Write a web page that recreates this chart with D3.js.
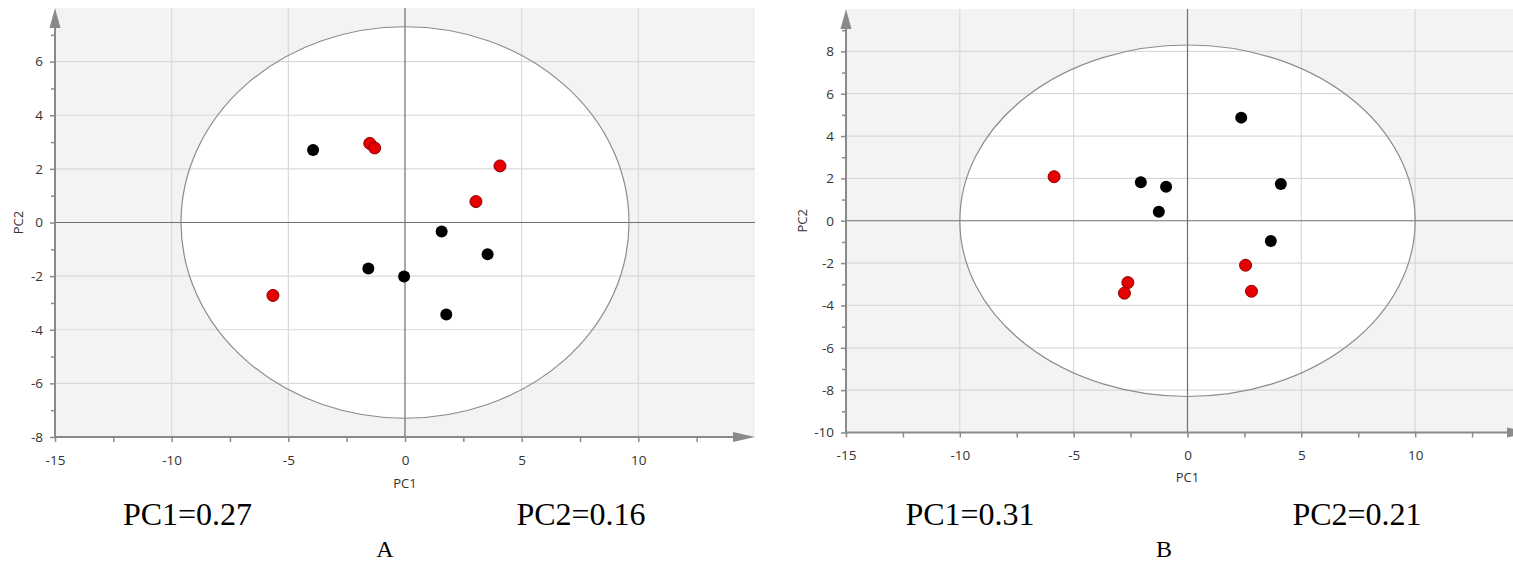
<!DOCTYPE html>
<html>
<head>
<meta charset="utf-8">
<script src="https://cdn.jsdelivr.net/npm/d3@7"></script>
<style>
  html, body { margin: 0; padding: 0; background: #fff; }
  svg { display: block; }
  .tick text { font-family: "Open Sans", "Noto Sans", sans-serif; fill: #333; }
</style>
</head>
<body>
<svg id="chart" width="1513" height="563"></svg>
<script>
// Score plots (PC1 vs PC2) for two sample sets; black = group 1, red = group 2.

// Panel A scores
const aBlackPC1 = [-3.94, -1.57, -0.04, 1.57, 3.54, 1.77];
const aBlackPC2 = [2.70, -1.72, -2.01, -0.34, -1.18, -3.43];
const aRedPC1 = [-1.51, -1.30, 4.07, 3.04, -5.66];
const aRedPC2 = [2.95, 2.78, 2.11, 0.78, -2.72];
const aEllipse = [9.6, 7.3];          // Hotelling T2 ellipse semi-axes (PC1, PC2)
const aXDomain = [-15, 15];
const aYDomain = [-8, 8];
const aYTicks = [-8, -6, -4, -2, 0, 2, 4, 6];
const aYMinor = [-7, -5, -3, -1, 1, 3, 5, 7];
const aCaption = ["PC1=0.27", "PC2=0.16", "A"];

// Panel B scores
const bBlackPC1 = [2.36, 4.10, 3.66, -2.05, -0.94, -1.26];
const bBlackPC2 = [4.87, 1.74, -0.96, 1.82, 1.61, 0.43];
const bRedPC1 = [-5.86, -2.62, -2.77, 2.55, 2.81];
const bRedPC2 = [2.08, -2.92, -3.42, -2.10, -3.33];
const bEllipse = [10.0, 8.3];
const bXDomain = [-15, 15];
const bYDomain = [-10, 10];
const bYTicks = [-10, -8, -6, -4, -2, 0, 2, 4, 6, 8];
const bYMinor = [-9, -7, -5, -3, -1, 1, 3, 5, 7, 9];
const bCaption = ["PC1=0.31", "PC2=0.21", "B"];

// Shared x ticks
const xTicks = [-15, -10, -5, 0, 5, 10];
const xMinor = [-12.5, -7.5, -2.5, 2.5, 7.5, 12.5];

const svg = d3.select("#chart");

function drawPanel(p) {
  const x = d3.scaleLinear().domain(p.xDomain).range(p.xRange);
  const y = d3.scaleLinear().domain(p.yDomain).range(p.yRange);
  const g = svg.append("g");
  const x0 = p.xRange[0], x1 = p.xRange[1], yb = p.yRange[0], yt = p.yRange[1];

  // plot background (outside the ellipse)
  g.append("rect")
    .attr("x", x0).attr("y", yt)
    .attr("width", x1 - x0).attr("height", yb - yt)
    .attr("fill", "#f3f3f3");

  // confidence ellipse interior
  g.append("ellipse")
    .attr("cx", x(0)).attr("cy", y(0))
    .attr("rx", x(p.ellipse[0]) - x(0))
    .attr("ry", y(0) - y(p.ellipse[1]))
    .attr("fill", "#ffffff");

  // grid
  g.selectAll(".vgrid")
    .data(p.xTicks.filter(v => v !== p.xDomain[0] && v !== 0))
    .join("line")
    .attr("x1", d => x(d)).attr("x2", d => x(d))
    .attr("y1", yb).attr("y2", yt)
    .attr("stroke", "#d9d9d9").attr("stroke-width", 1.2);
  g.selectAll(".hgrid")
    .data(p.yTicks.filter(v => v !== p.yDomain[0] && v !== 0))
    .join("line")
    .attr("x1", x0).attr("x2", x1)
    .attr("y1", d => y(d)).attr("y2", d => y(d))
    .attr("stroke", "#d9d9d9").attr("stroke-width", 1.2);

  // zero lines
  g.append("line")
    .attr("x1", x(0)).attr("x2", x(0)).attr("y1", yb).attr("y2", yt)
    .attr("stroke", "#6f6f6f").attr("stroke-width", 1.2);
  g.append("line")
    .attr("x1", x0).attr("x2", x1).attr("y1", y(0)).attr("y2", y(0))
    .attr("stroke", "#6f6f6f").attr("stroke-width", 1.2);

  // ellipse outline
  g.append("ellipse")
    .attr("cx", x(0)).attr("cy", y(0))
    .attr("rx", x(p.ellipse[0]) - x(0))
    .attr("ry", y(0) - y(p.ellipse[1]))
    .attr("fill", "none")
    .attr("stroke", "#8c8c8c").attr("stroke-width", 1.2);

  // axes: major ticks with labels, minor ticks without
  const fmt = d => d3.format("d")(d).replace("−", "-");
  const yAxis = g.append("g").attr("transform", `translate(${x0},0)`)
    .call(d3.axisLeft(y).tickValues(p.yTicks).tickFormat(fmt).tickSize(5).tickPadding(7));
  const yMinorAxis = g.append("g").attr("transform", `translate(${x0},0)`)
    .call(d3.axisLeft(y).tickValues(p.yMinor).tickFormat("").tickSize(4));
  const xAxis = g.append("g").attr("transform", `translate(0,${yb})`)
    .call(d3.axisBottom(x).tickValues(p.xTicks).tickFormat(fmt).tickSize(5).tickPadding(13));
  const xMinorAxis = g.append("g").attr("transform", `translate(0,${yb})`)
    .call(d3.axisBottom(x).tickValues(p.xMinor).tickFormat("").tickSize(5));

  [yAxis, yMinorAxis, xAxis, xMinorAxis].forEach(a => {
    a.select(".domain").remove();
    a.selectAll(".tick line").attr("stroke", "#8a8a8a").attr("stroke-width", 1.5);
    a.selectAll(".tick text").style("font-size", "13.5px");
  });

  // axis lines with arrowheads
  const axisCol = "#8a8a8a";
  g.append("line")
    .attr("x1", x0).attr("x2", x0).attr("y1", yb).attr("y2", yt + 14)
    .attr("stroke", axisCol).attr("stroke-width", 2);
  g.append("line")
    .attr("x1", x0).attr("x2", x1 - 14).attr("y1", yb).attr("y2", yb)
    .attr("stroke", axisCol).attr("stroke-width", 2);
  g.append("path")
    .attr("d", `M${x0},${yt} L${x0 - 5.5},${yt + 20} L${x0 + 5.5},${yt + 20} Z`)
    .attr("fill", axisCol);
  g.append("path")
    .attr("d", `M${x1},${yb} L${x1 - 22},${yb - 5} L${x1 - 22},${yb + 5} Z`)
    .attr("fill", axisCol);

  // axis titles
  g.append("text")
    .attr("x", x(0)).attr("y", p.pc1TitleY)
    .attr("text-anchor", "middle")
    .style("font-family", "'Open Sans', 'Noto Sans', sans-serif")
    .style("font-size", "13px").attr("fill", "#333")
    .text("PC1");
  g.append("text")
    .attr("transform", `translate(${p.pc2TitleX},${y(0)}) rotate(-90)`)
    .attr("text-anchor", "middle")
    .style("font-family", "'Open Sans', 'Noto Sans', sans-serif")
    .style("font-size", "13px").attr("fill", "#333")
    .text("PC2");

  // scores
  g.selectAll(".black")
    .data(p.blackPC1.map((v, i) => [v, p.blackPC2[i]]))
    .join("circle")
    .attr("cx", d => x(d[0])).attr("cy", d => y(d[1]))
    .attr("r", 6).attr("fill", "#000");
  g.selectAll(".red")
    .data(p.redPC1.map((v, i) => [v, p.redPC2[i]]))
    .join("circle")
    .attr("cx", d => x(d[0])).attr("cy", d => y(d[1]))
    .attr("r", 6).attr("fill", "#e60000")
    .attr("stroke", "#8e0000").attr("stroke-width", 1);

  // captions
  const serif = "'Liberation Serif', 'Times New Roman', serif";
  g.append("text").attr("x", p.capX[0]).attr("y", 525)
    .attr("text-anchor", "middle").style("font-family", serif).style("font-size", "32px")
    .attr("fill", "#000").text(p.caption[0]);
  g.append("text").attr("x", p.capX[1]).attr("y", 525)
    .attr("text-anchor", "middle").style("font-family", serif).style("font-size", "32px")
    .attr("fill", "#000").text(p.caption[1]);
  g.append("text").attr("x", p.capX[2]).attr("y", 557)
    .attr("text-anchor", "middle").style("font-family", serif).style("font-size", "24px")
    .attr("fill", "#000").text(p.caption[2]);
}

drawPanel({
  xDomain: aXDomain, yDomain: aYDomain,
  xRange: [55, 755], yRange: [437, 8],
  xTicks, xMinor, yTicks: aYTicks, yMinor: aYMinor,
  ellipse: aEllipse,
  blackPC1: aBlackPC1, blackPC2: aBlackPC2, redPC1: aRedPC1, redPC2: aRedPC2,
  pc1TitleY: 488, pc2TitleX: 23,
  caption: aCaption, capX: [187.5, 581, 385]
});

drawPanel({
  xDomain: bXDomain, yDomain: bYDomain,
  xRange: [846, 1529], yRange: [432.5, 9],
  xTicks, xMinor, yTicks: bYTicks, yMinor: bYMinor,
  ellipse: bEllipse,
  blackPC1: bBlackPC1, blackPC2: bBlackPC2, redPC1: bRedPC1, redPC2: bRedPC2,
  pc1TitleY: 482, pc2TitleX: 807,
  caption: bCaption, capX: [970, 1357, 1164]
});
</script>
</body>
</html>
